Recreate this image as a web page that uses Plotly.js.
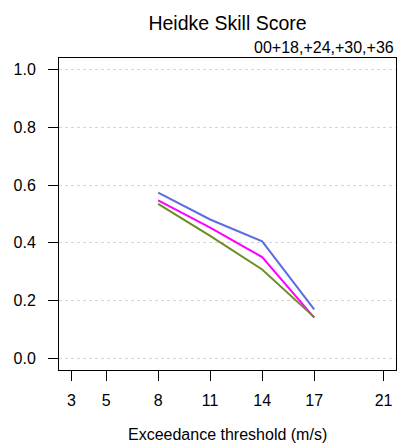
<!DOCTYPE html>
<html>
<head>
<meta charset="utf-8">
<script src="https://cdn.plot.ly/plotly-3.0.1.min.js"></script>
<style>html,body{margin:0;padding:0;background:#fff;overflow:hidden;}#chart{width:406px;height:444px;}</style>
</head>
<body>
<div id="chart"></div>
<script>
const thresholds = [8, 11, 14, 17];
const seriesBlue = [0.574, 0.481, 0.405, 0.170];
const seriesMagenta = [0.547, 0.453, 0.351, 0.141];
const seriesGreen = [0.535, 0.424, 0.308, 0.143];
const xTickVals = [3, 5, 8, 11, 14, 17, 21];
const yTickVals = [0, 0.2, 0.4, 0.6, 0.8, 1.0];
const yTickText = ['0.0', '0.2', '0.4', '0.6', '0.8', '1.0'];
const xTitle = 'Exceedance threshold (m/s)';
const subTitle = '00+18,+24,+30,+36';

const font = 'Liberation Sans, Arial, Helvetica, sans-serif';
const mk = (y, color) => ({x: thresholds, y: y, type: 'scatter', mode: 'lines',
  line: {color: color, width: 2}, hoverinfo: 'skip', showlegend: false});

const data = [mk(seriesBlue, '#5b6de0'), mk(seriesMagenta, '#ff00ff'), mk(seriesGreen, '#6b8e23')];

const layout = {
  width: 406, height: 444,
  margin: {l: 59, r: 10, t: 58, b: 74},
  paper_bgcolor: '#fff', plot_bgcolor: '#fff',
  font: {family: font, size: 16, color: '#000'},
  title: {text: 'Heidke Skill Score', font: {family: font, size: 19.5, color: '#000'},
    x: 0.5, xref: 'paper', xanchor: 'center', y: 1 - 23/444, yref: 'container', yanchor: 'middle'},
  xaxis: {
    range: [2.28, 21.72], tickvals: xTickVals, ticktext: xTickVals.map(String),
    ticks: 'outside', ticklen: 10, tickcolor: '#000', tickwidth: 1,
    showline: true, linecolor: '#000', linewidth: 1, mirror: true,
    showgrid: false, zeroline: false, ticklabelstandoff: 6,
    tickfont: {family: font, size: 16, color: '#000'}
  },
  yaxis: {
    range: [-0.04, 1.04], tickvals: yTickVals, ticktext: yTickText,
    ticks: 'outside', ticklen: 10, tickcolor: '#000', tickwidth: 1,
    showline: true, linecolor: '#000', linewidth: 1, mirror: true,
    showgrid: true, gridcolor: '#d4d4d4', griddash: 'dot', gridwidth: 1,
    zeroline: false, ticklabelstandoff: 9,
    tickfont: {family: font, size: 16, color: '#000'}
  },
  annotations: [
    {text: subTitle, xref: 'paper', yref: 'paper', x: 1, y: 1,
      xanchor: 'right', yanchor: 'bottom', yshift: 0, showarrow: false,
      font: {family: font, size: 16, color: '#000'}},
    {text: xTitle, xref: 'paper', yref: 'paper', x: 0.5, y: -(434 - 370) / 312,
      xanchor: 'center', yanchor: 'middle', showarrow: false,
      font: {family: font, size: 16, color: '#000'}}
  ]
};

Plotly.newPlot('chart', data, layout, {displayModeBar: false, staticPlot: true});
</script>
</body>
</html>
